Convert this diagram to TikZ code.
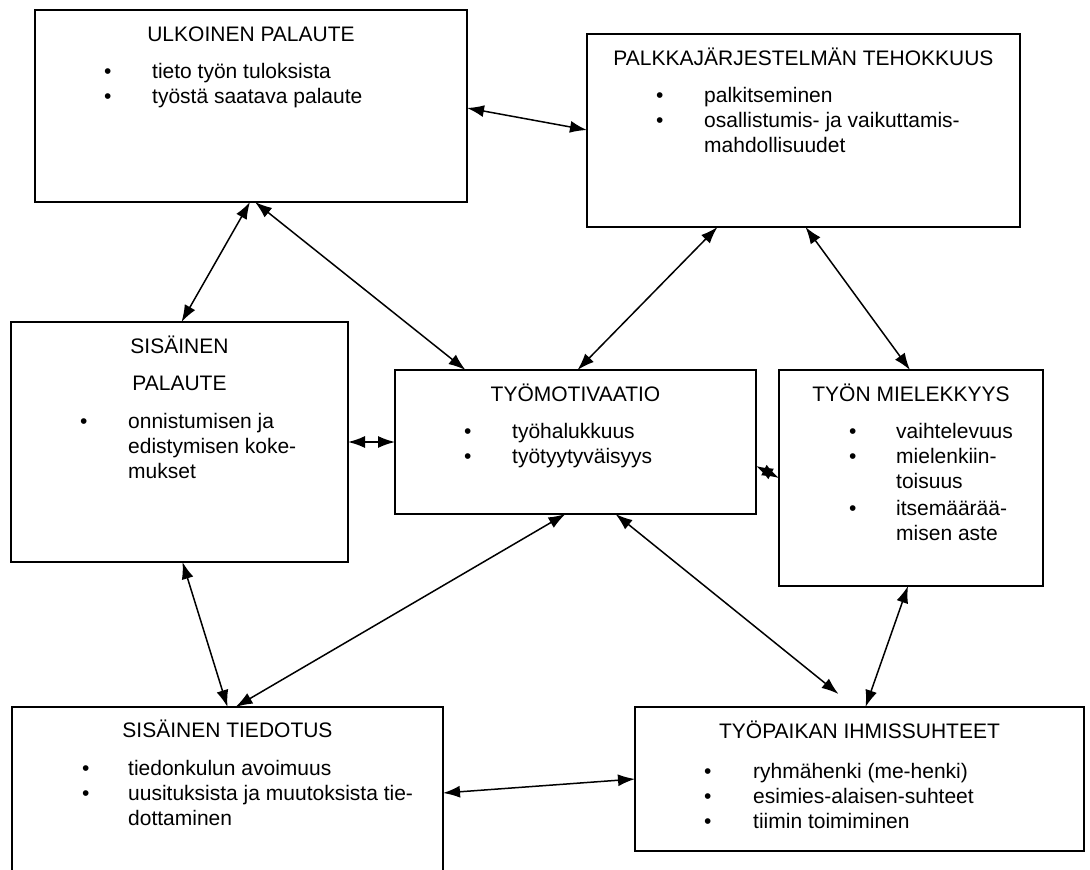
\documentclass[tikz,border=0pt]{standalone}
\usepackage{fontspec}
\setmainfont{Liberation Sans}
\usepackage{tikz}
\usetikzlibrary{positioning,arrows.meta}
\tikzstyle{box}=[rectangle, draw, line width=1.8pt, outer sep=0pt, inner sep=0pt]
\tikzstyle{heading}=[inner sep=0pt, anchor=base]
\tikzstyle{bullets}=[inner sep=0pt, anchor=base west]
\tikzstyle{link}=[{Latex[length=17pt,width=12pt]}-{Latex[length=17pt,width=12pt]}, line width=1.5pt]

\begin{document}
\begin{tikzpicture}[x=1pt,y=-1pt,font=\fontsize{21}{25}\selectfont]

        \useasboundingbox (0,0) rectangle (1090,870);
        \clip (0,0) rectangle (1090,870);

        \node[box,
            minimum width=432pt,
            minimum height=192pt,
            anchor=north west] (ulkoinen) at (35,10) {};

        \node[box,
            below right=24pt and 120pt of ulkoinen.north east,
            minimum width=433pt,
            minimum height=193pt] (palkka) {};

        \node[box,
            below left=120pt and 24pt of ulkoinen.south west,
            anchor=north west,
            minimum width=337pt,
            minimum height=240pt] (sisainen) {};

        \node[box,
            below right=48pt and 47pt of sisainen.north east,
            minimum width=361pt,
            minimum height=144pt] (motivaatio) {};

        \node[box,
            below right=0pt and 23pt of motivaatio.north east,
            minimum width=264pt,
            minimum height=216pt] (mielekkyys) {};

        \node[box,
            below right=145pt and 1pt of sisainen.south west,
            minimum width=431pt,
            minimum height=180pt] (tiedotus) {};

        \node[box,
            below right=0pt and 192pt of tiedotus.north east,
            minimum width=449pt,
            minimum height=144pt] (ihmissuhteet) {};

% Texts
        \node[below=31pt of ulkoinen.north, heading] (ulkoinen-title) {ULKOINEN PALAUTE};
        \node[below right=68pt and 69pt of ulkoinen.north west, bullets] (ulkoinen-list)
        {\begin{tabular}[t]{@{}p{48pt}@{}l@{}}
            \textbullet & tieto työn tuloksista\\
            \textbullet & työstä saatava palaute
        \end{tabular}};

        \node[below=31pt of palkka.north, heading] (palkka-title) {PALKKAJÄRJESTELMÄN TEHOKKUUS};
        \node[below right=68pt and 69pt of palkka.north west, bullets] (palkka-list)
        {\begin{tabular}[t]{@{}p{48pt}@{}l@{}}
            \textbullet & palkitseminen\\
            \textbullet & osallistumis- ja vaikuttamis-\\
            & mahdollisuudet
        \end{tabular}};

        \node[below=31pt of sisainen.north, heading] (sisainen-title) {SISÄINEN};
        \node[below=68pt of sisainen.north, heading] (sisainen-title2) {PALAUTE};
        \node[below right=106pt and 69pt of sisainen.north west, bullets] (sisainen-list)
        {\begin{tabular}[t]{@{}p{48pt}@{}l@{}}
            \textbullet & onnistumisen ja\\
            & edistymisen koke-\\
            & mukset
        \end{tabular}};

        \node[below=31pt of motivaatio.north, heading] (motivaatio-title) {TYÖMOTIVAATIO};
        \node[below right=68pt and 69pt of motivaatio.north west, bullets] (motivaatio-list)
        {\begin{tabular}[t]{@{}p{48pt}@{}l@{}}
            \textbullet & työhalukkuus\\
            \textbullet & työtyytyväisyys
        \end{tabular}};

        \node[below=31pt of mielekkyys.north, heading] (mielekkyys-title) {TYÖN MIELEKKYYS};
        \node[below right=68pt and 70pt of mielekkyys.north west, bullets] (mielekkyys-list)
        {\begin{tabular}[t]{@{}p{47pt}@{}l@{}}
            \textbullet & vaihtelevuus\\
            \textbullet & mielenkiin-\\
            & toisuus\\[2pt]
            \textbullet & itsemäärää-\\
            & misen aste
        \end{tabular}};

        \node[below=30pt of tiedotus.north, heading] (tiedotus-title) {SISÄINEN TIEDOTUS};
        \node[below right=68pt and 70pt of tiedotus.north west, bullets] (tiedotus-list)
        {\begin{tabular}[t]{@{}p{46pt}@{}l@{}}
            \textbullet & tiedonkulun avoimuus\\
            \textbullet & uusituksista ja muutoksista tie-\\
            & dottaminen
        \end{tabular}};

        \node[below=31pt of ihmissuhteet.north, heading] (ihmissuhteet-title) {TYÖPAIKAN IHMISSUHTEET};
        \node[below right=71pt and 69pt of ihmissuhteet.north west, bullets] (ihmissuhteet-list)
        {\begin{tabular}[t]{@{}p{49pt}@{}l@{}}
            \textbullet & ryhmähenki (me-henki)\\
            \textbullet & esimies-alaisen-suhteet\\
            \textbullet & tiimin toimiminen
        \end{tabular}};

% Arrows
        \coordinate (gap) at ([xshift=-21pt,yshift=13pt]ihmissuhteet.north);

        \draw[link] ([yshift=-98pt]ulkoinen.north east) -- ([yshift=-96pt]palkka.north west);
        \draw[link] ([xshift=-1pt]ulkoinen.south) -- ([xshift=2pt]sisainen.north);
        \draw[link] ([xshift=4pt]ulkoinen.south) -- ([xshift=-110pt]motivaatio.north);
        \draw[link] ([xshift=-86pt]palkka.south) -- ([xshift=2pt]motivaatio.north);
        \draw[link] ([xshift=2pt]palkka.south) -- ([xshift=-1pt]mielekkyys.north);
        \draw[link] (sisainen.east) -- (motivaatio.west);
        \draw[link] ([yshift=-24pt]motivaatio.east) -- (mielekkyys.west);
        \draw[link] ([xshift=3pt]sisainen.south) -- (tiedotus.north);
        \draw[link] ([xshift=-10pt]motivaatio.south) -- ([xshift=8pt]tiedotus.north);
        \draw[link] ([xshift=40pt]motivaatio.south) -- (gap);
        \draw[link] ([xshift=-3pt]mielekkyys.south) -- ([xshift=6pt]ihmissuhteet.north);
        \draw[link] ([yshift=-86pt]tiedotus.north east) -- (ihmissuhteet.west);

    \end{tikzpicture}
\end{document}
